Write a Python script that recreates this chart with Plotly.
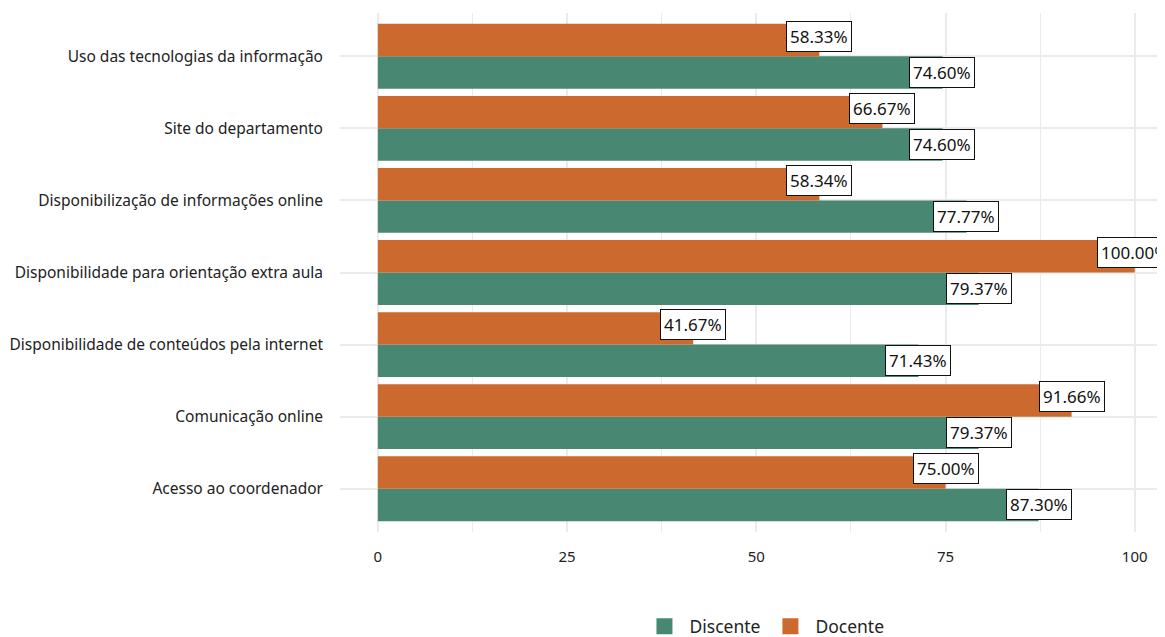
import plotly.graph_objects as go

categories = [
    "Acesso ao coordenador",
    "Comunicação online",
    "Disponibilidade de conteúdos pela internet",
    "Disponibilidade para orientação extra aula",
    "Disponibilização de informações online",
    "Site do departamento",
    "Uso das tecnologias da informação",
]
discente = [87.30, 79.37, 71.43, 79.37, 77.77, 74.60, 74.60]
docente = [75.00, 91.66, 41.67, 100.00, 58.34, 66.67, 58.33]
x_ticks = [0, 25, 50, 75, 100]

GREEN = "#488872"
ORANGE = "#CC692E"
FONT = "Noto Sans"

fig = go.Figure()
fig.add_trace(go.Bar(y=categories, x=discente, orientation="h", name="Discente",
                     marker=dict(color=GREEN, line=dict(width=0)), showlegend=False))
fig.add_trace(go.Bar(y=categories, x=docente, orientation="h", name="Docente",
                     marker=dict(color=ORANGE, line=dict(width=0)), showlegend=False))
# legend entries with larger square keys
for name, col in (("Discente", GREEN), ("Docente", ORANGE)):
    fig.add_trace(go.Scatter(x=[None], y=[None], mode="markers", name=name,
                             marker=dict(symbol="square", size=22, color=col)))

annotations = []
for cat, d, o in zip(categories, discente, docente):
    for val, shift in ((d, -16), (o, 20)):
        annotations.append(dict(
            x=val, y=cat, xref="x", yref="y", text=f"{val:.2f}%",
            showarrow=False, yshift=shift, xanchor="center", yanchor="middle",
            bgcolor="white", bordercolor="#111111", borderwidth=1, borderpad=3,
            font=dict(family=FONT, size=17, color="#111111"),
        ))

fig.update_layout(
    width=1157, height=629,
    margin=dict(l=332, r=0, t=5, b=105, autoexpand=False),
    barmode="group", bargap=0.1, bargroupgap=0,
    plot_bgcolor="white", paper_bgcolor="white",
    font=dict(family=FONT, size=15, color="#222222"),
    annotations=annotations,
    showlegend=True,
    legend=dict(orientation="h", x=0.5145, xanchor="center", y=-0.182, yanchor="middle",
                font=dict(family=FONT, size=17.5, color="#222222"), traceorder="normal",
                itemsizing="trace", itemwidth=40),
    xaxis=dict(range=[-5, 104], tickvals=x_ticks, showgrid=True, gridcolor="#EBEBEB",
               gridwidth=2, zeroline=False, showline=False, ticks="",
               ticklabelstandoff=14, tickfont=dict(size=15, color="#222222"),
               minor=dict(dtick=12.5, tick0=12.5, showgrid=True, gridcolor="#EBEBEB", gridwidth=1)),
    yaxis=dict(range=[-0.6, 6.6], showgrid=True, gridcolor="#EBEBEB", gridwidth=2,
               zeroline=False, showline=False, ticks="", ticklabelstandoff=16,
               tickfont=dict(size=15.5, color="#222222")),
)

fig.write_html("out.html")
